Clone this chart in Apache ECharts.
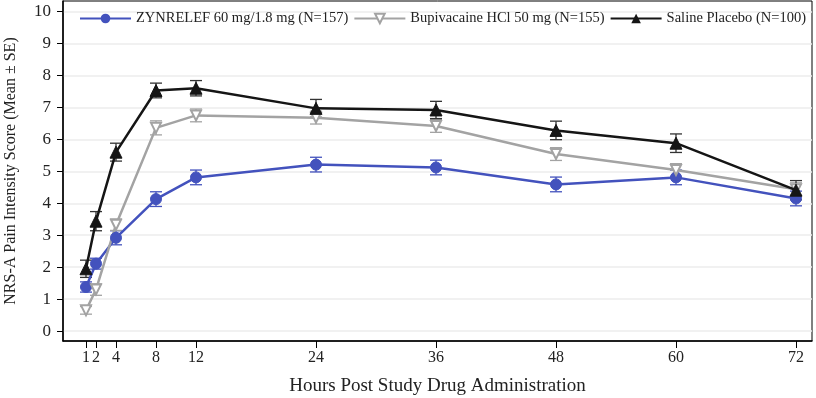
<!DOCTYPE html>
<html><head><meta charset="utf-8">
<script src="https://cdn.jsdelivr.net/npm/echarts@6/dist/echarts.min.js"></script>
<style>html,body{margin:0;padding:0;background:#fff}#c{width:816px;height:398px}</style>
</head><body><div id="c"></div>
<script>
const hours = [1, 2, 4, 8, 12, 24, 36, 48, 60, 72];
const yTicks = [0, 1, 2, 3, 4, 5, 6, 7, 8, 9, 10];
const nameZyn = 'ZYNRELEF 60 mg/1.8 mg (N=157)';
const nameBup = 'Bupivacaine HCl 50 mg (N=155)';
const nameSal = 'Saline Placebo (N=100)';
const zynMean = [1.38, 2.11, 2.92, 4.13, 4.81, 5.21, 5.12, 4.59, 4.81, 4.15];
const zynSE   = [0.16, 0.17, 0.22, 0.23, 0.23, 0.23, 0.23, 0.23, 0.23, 0.23];
const bupMean = [0.65, 1.30, 3.33, 6.36, 6.75, 6.68, 6.42, 5.54, 5.04, 4.44];
const bupSE   = [0.12, 0.18, 0.18, 0.22, 0.20, 0.20, 0.20, 0.20, 0.20, 0.20];
const salMean = [1.95, 3.44, 5.60, 7.53, 7.60, 6.97, 6.92, 6.28, 5.88, 4.41];
const salSE   = [0.27, 0.30, 0.28, 0.23, 0.24, 0.28, 0.27, 0.29, 0.29, 0.30];

const FONT = 'Liberation Serif';
const cBlue = '#4352bd', cGray = '#a3a3a3', cBlack = '#151515';

function lineSeries(name, mean, color, symbol, size, extra) {
  return Object.assign({
    name, type: 'line', data: hours.map((h, i) => [h, mean[i]]),
    symbol, symbolSize: size, lineStyle: { color, width: 2.5 },
    itemStyle: { color, borderColor: color }, z: 5
  }, extra || {});
}
function errSeries(name, mean, se, color, z) {
  return {
    name: name + ' SE', type: 'custom', z,
    data: hours.map((h, i) => [h, mean[i] - se[i], mean[i] + se[i]]),
    renderItem(params, api) {
      const x = api.value(0);
      const lo = api.coord([x, api.value(1)]);
      const hi = api.coord([x, api.value(2)]);
      const w = 6;
      const st = { stroke: color, lineWidth: 1.3 };
      return { type: 'group', children: [
        { type: 'line', shape: { x1: lo[0], y1: lo[1], x2: hi[0], y2: hi[1] }, style: st },
        { type: 'line', shape: { x1: lo[0] - w, y1: lo[1], x2: lo[0] + w, y2: lo[1] }, style: st },
        { type: 'line', shape: { x1: hi[0] - w, y1: hi[1], x2: hi[0] + w, y2: hi[1] }, style: st }
      ]};
    }
  };
}

const chart = echarts.init(document.getElementById('c'), null, { renderer: 'canvas' });
chart.setOption({
  animation: false,
  backgroundColor: '#fff',
  textStyle: { fontFamily: FONT },
  grid: { left: 63, right: 4, top: 1, bottom: 57, show: true, borderColor: '#000', borderWidth: 1,
          containLabel: false, outerBoundsMode: 'none' },
  legend: {
    data: [nameZyn, nameBup, nameSal], top: 6, left: 74, itemWidth: 51, itemHeight: 12, itemGap: 5,
    textStyle: { fontFamily: FONT, fontSize: 14.5, color: '#222' }
  },
  xAxis: {
    type: 'value', min: -1.3, max: 73.6,
    name: 'Hours Post Study Drug Administration', nameLocation: 'middle', nameGap: 36,
    nameTextStyle: { fontFamily: FONT, fontSize: 19, color: '#222' },
    axisLine: { show: true, onZero: false, lineStyle: { color: '#000', width: 1.5 } },
    axisTick: { show: true, customValues: hours, length: 7, lineStyle: { color: '#000' } },
    axisLabel: { customValues: hours, fontFamily: FONT, fontSize: 16, color: '#222', margin: 9 },
    splitLine: { show: false }
  },
  yAxis: {
    type: 'value', min: -0.31, max: 10.33,
    name: 'NRS-A Pain Intensity Score (Mean \u00b1 SE)', nameLocation: 'middle', nameGap: 44,
    nameTextStyle: { fontFamily: FONT, fontSize: 16, color: '#222' },
    axisLine: { show: true, onZero: false, lineStyle: { color: '#000', width: 1.5 } },
    axisTick: { show: true, customValues: yTicks, length: 6, lineStyle: { color: '#000' } },
    axisLabel: { customValues: yTicks, fontFamily: FONT, fontSize: 17, color: '#222', margin: 12 },
    splitLine: { show: true, lineStyle: { color: '#ececec', width: 1.5 } }
  },
  series: [
    errSeries(nameZyn, zynMean, zynSE, cBlue, 3),
    errSeries(nameBup, bupMean, bupSE, cGray, 3),
    errSeries(nameSal, salMean, salSE, '#333', 3),
    lineSeries(nameZyn, zynMean, cBlue, 'circle', 11),
    lineSeries(nameBup, bupMean, cGray, 'emptyTriangle', 10, { symbolRotate: 180, itemStyle: { color: cGray, borderColor: cGray, borderWidth: 1.2 } }),
    lineSeries(nameSal, salMean, cBlack, 'triangle', 12, { z: 6 })
  ]
});
</script></body></html>
